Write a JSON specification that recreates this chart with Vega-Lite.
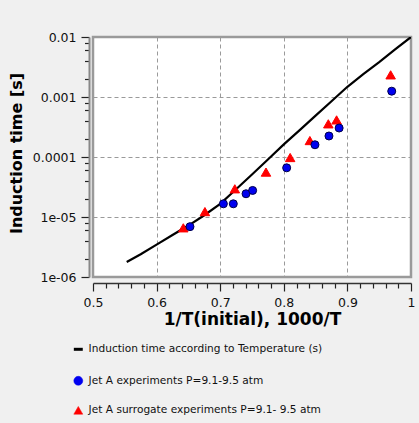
{
  "$schema": "https://vega.github.io/schema/vega-lite/v6.json",
  "autosize": "none",
  "width": 318,
  "height": 240,
  "padding": {"left": 93, "top": 37, "right": 8, "bottom": 146},
  "background": "#f0f0f0",
  "config": {
    "font": "DejaVu Sans",
    "view": {"fill": "white", "stroke": "#9a9a9a", "strokeWidth": 2.5}
  },
  "datasets": {
    "curve": [
      {"x": 0.553, "t": 1.78e-6, "series": "Induction time according to Temperature (s)"},
      {"x": 0.575, "t": 2.4e-6, "series": "Induction time according to Temperature (s)"},
      {"x": 0.6, "t": 3.47e-6, "series": "Induction time according to Temperature (s)"},
      {"x": 0.625, "t": 5.0e-6, "series": "Induction time according to Temperature (s)"},
      {"x": 0.65, "t": 7.2e-6, "series": "Induction time according to Temperature (s)"},
      {"x": 0.675, "t": 1.07e-5, "series": "Induction time according to Temperature (s)"},
      {"x": 0.7, "t": 1.66e-5, "series": "Induction time according to Temperature (s)"},
      {"x": 0.725, "t": 2.9e-5, "series": "Induction time according to Temperature (s)"},
      {"x": 0.75, "t": 5.1e-5, "series": "Induction time according to Temperature (s)"},
      {"x": 0.775, "t": 9.1e-5, "series": "Induction time according to Temperature (s)"},
      {"x": 0.8, "t": 1.62e-4, "series": "Induction time according to Temperature (s)"},
      {"x": 0.825, "t": 2.8e-4, "series": "Induction time according to Temperature (s)"},
      {"x": 0.85, "t": 4.9e-4, "series": "Induction time according to Temperature (s)"},
      {"x": 0.875, "t": 8.5e-4, "series": "Induction time according to Temperature (s)"},
      {"x": 0.9, "t": 1.48e-3, "series": "Induction time according to Temperature (s)"},
      {"x": 0.925, "t": 2.4e-3, "series": "Induction time according to Temperature (s)"},
      {"x": 0.95, "t": 3.8e-3, "series": "Induction time according to Temperature (s)"},
      {"x": 0.975, "t": 6.2e-3, "series": "Induction time according to Temperature (s)"},
      {"x": 1.0, "t": 0.01, "series": "Induction time according to Temperature (s)"}
    ],
    "points": [
      {"x": 0.642, "t": 6.6e-6, "series": "Jet A surrogate experiments P=9.1- 9.5 atm"},
      {"x": 0.676, "t": 1.23e-5, "series": "Jet A surrogate experiments P=9.1- 9.5 atm"},
      {"x": 0.723, "t": 2.95e-5, "series": "Jet A surrogate experiments P=9.1- 9.5 atm"},
      {"x": 0.772, "t": 5.6e-5, "series": "Jet A surrogate experiments P=9.1- 9.5 atm"},
      {"x": 0.81, "t": 9.8e-5, "series": "Jet A surrogate experiments P=9.1- 9.5 atm"},
      {"x": 0.841, "t": 1.88e-4, "series": "Jet A surrogate experiments P=9.1- 9.5 atm"},
      {"x": 0.87, "t": 3.57e-4, "series": "Jet A surrogate experiments P=9.1- 9.5 atm"},
      {"x": 0.883, "t": 4.15e-4, "series": "Jet A surrogate experiments P=9.1- 9.5 atm"},
      {"x": 0.968, "t": 2.34e-3, "series": "Jet A surrogate experiments P=9.1- 9.5 atm"},
      {"x": 0.6525, "t": 6.9e-6, "series": "Jet A experiments P=9.1-9.5 atm"},
      {"x": 0.705, "t": 1.66e-5, "series": "Jet A experiments P=9.1-9.5 atm"},
      {"x": 0.7206, "t": 1.66e-5, "series": "Jet A experiments P=9.1-9.5 atm"},
      {"x": 0.7406, "t": 2.44e-5, "series": "Jet A experiments P=9.1-9.5 atm"},
      {"x": 0.751, "t": 2.77e-5, "series": "Jet A experiments P=9.1-9.5 atm"},
      {"x": 0.8045, "t": 6.6e-5, "series": "Jet A experiments P=9.1-9.5 atm"},
      {"x": 0.849, "t": 1.6e-4, "series": "Jet A experiments P=9.1-9.5 atm"},
      {"x": 0.871, "t": 2.24e-4, "series": "Jet A experiments P=9.1-9.5 atm"},
      {"x": 0.887, "t": 3.04e-4, "series": "Jet A experiments P=9.1-9.5 atm"},
      {"x": 0.9697, "t": 1.25e-3, "series": "Jet A experiments P=9.1-9.5 atm"}
    ]
  },
  "encoding": {
    "x": {
      "field": "x", "type": "quantitative",
      "scale": {"domain": [0.5, 1.0], "nice": false, "zero": false},
      "axis": {
        "title": "1/T(initial), 1000/T",
        "titleFont": "DejaVu Sans", "titleFontSize": 17, "titleFontWeight": "bold", "titleColor": "#000",
        "titlePadding": 3,
        "values": [0.5,0.52,0.54,0.56,0.58,0.6,0.62,0.64,0.66,0.68,0.7,0.72,0.74,0.76,0.78,0.8,0.82,0.84,0.86,0.88,0.9,0.92,0.94,0.96,0.98,1.0],
        "labelExpr": "abs(datum.value*10 - round(datum.value*10)) > 0.01 ? '' : format(datum.value, '~g')",
        "labelFontSize": 12.5, "labelColor": "#111", "labelFlush": false, "labelOverlap": false,
        "labelPadding": 5,
        "offset": 6,
        "domainColor": "#333", "domainWidth": 1.5,
        "tickColor": "#222", "tickWidth": 1.2,
        "tickSize": {"condition": {"test": "abs(datum.value*10 - round(datum.value*10)) < 0.01", "value": 8}, "value": 5},
        "grid": true,
        "gridColor": "#9a9a9a", "gridDash": [4, 3], "gridWidth": 1,
        "gridOpacity": {"condition": {"test": "abs(datum.value*10 - round(datum.value*10)) < 0.01", "value": 1}, "value": 0}
      }
    },
    "y": {
      "field": "t", "type": "quantitative",
      "scale": {"type": "log", "domain": [1e-6, 0.01], "nice": false},
      "axis": {
        "title": "Induction time [s]",
        "titleFont": "DejaVu Sans", "titleFontSize": 16, "titleFontWeight": "bold", "titleColor": "#000",
        "titlePadding": 8, "titleY": 116,
        "values": [1e-6,2e-6,4e-6,6e-6,8e-6,1e-5,2e-5,4e-5,6e-5,8e-5,1e-4,2e-4,4e-4,6e-4,8e-4,1e-3,2e-3,4e-3,6e-3,8e-3,1e-2],
        "labelExpr": "abs(log(datum.value)/LN10 - round(log(datum.value)/LN10)) > 0.001 ? '' : round(log(datum.value)/LN10) == -2 ? '0.01' : round(log(datum.value)/LN10) == -3 ? '0.001' : round(log(datum.value)/LN10) == -4 ? '0.0001' : round(log(datum.value)/LN10) == -5 ? '1e-05' : '1e-06'",
        "labelFontSize": 12.5, "labelColor": "#111", "labelFlush": false, "labelOverlap": false,
        "labelPadding": 5,
        "offset": 4,
        "domainColor": "#888", "domainWidth": 2,
        "tickColor": "#222", "tickWidth": 1.2,
        "tickSize": {"condition": {"test": "abs(log(datum.value)/LN10 - round(log(datum.value)/LN10)) < 0.001", "value": 8}, "value": 4.5},
        "grid": true,
        "gridColor": "#9a9a9a", "gridDash": [4, 3], "gridWidth": 1,
        "gridOpacity": {"condition": {"test": "abs(log(datum.value)/LN10 - round(log(datum.value)/LN10)) < 0.001", "value": 1}, "value": 0}
      }
    }
  },
  "layer": [
    {
      "data": {"name": "curve"},
      "mark": {"type": "line", "strokeWidth": 2.2, "clip": true},
      "encoding": {
        "color": {
          "field": "series", "type": "nominal",
          "scale": {
            "domain": ["Induction time according to Temperature (s)", "Jet A experiments P=9.1-9.5 atm", "Jet A surrogate experiments P=9.1- 9.5 atm"],
            "range": ["#000000", "#0000f0", "#ff0000"]
          },
          "legend": {
            "orient": "none", "legendX": -20, "legendY": 307, "title": null,
            "symbolSize": 80, "labelFontSize": 10.6, "labelColor": "#111", "labelFont": "DejaVu Sans",
            "rowPadding": 18.5, "labelOffset": 5, "labelLimit": 400,
            "encode": {"symbols": {"update": {
              "fill": {"scale": "color", "field": "value"},
              "stroke": {"scale": "color", "field": "value"},
              "strokeWidth": {"signal": "datum.value == 'Induction time according to Temperature (s)' ? 3 : 0.5"}
            }}}
          }
        }
      }
    },
    {
      "data": {"name": "points"},
      "mark": {"type": "point", "filled": true, "opacity": 1, "size": 70, "strokeWidth": 1},
      "encoding": {
        "color": {
          "field": "series", "type": "nominal",
          "scale": {
            "domain": ["Induction time according to Temperature (s)", "Jet A experiments P=9.1-9.5 atm", "Jet A surrogate experiments P=9.1- 9.5 atm"],
            "range": ["#000000", "#0000f0", "#ff0000"]
          },
          "legend": {
            "orient": "none", "legendX": -20, "legendY": 307, "title": null,
            "symbolSize": 80, "labelFontSize": 10.6, "labelColor": "#111", "labelFont": "DejaVu Sans",
            "rowPadding": 18.5, "labelOffset": 5, "labelLimit": 400,
            "encode": {"symbols": {"update": {
              "fill": {"scale": "color", "field": "value"},
              "stroke": {"scale": "color", "field": "value"},
              "strokeWidth": {"signal": "datum.value == 'Induction time according to Temperature (s)' ? 3 : 0.5"}
            }}}
          }
        },
        "shape": {
          "field": "series", "type": "nominal",
          "scale": {
            "domain": ["Induction time according to Temperature (s)", "Jet A experiments P=9.1-9.5 atm", "Jet A surrogate experiments P=9.1- 9.5 atm"],
            "range": ["stroke", "circle", "triangle-up"]
          },
          "legend": {
            "orient": "none", "legendX": -20, "legendY": 307, "title": null,
            "symbolSize": 80, "labelFontSize": 10.6, "labelColor": "#111", "labelFont": "DejaVu Sans",
            "rowPadding": 18.5, "labelOffset": 5, "labelLimit": 400,
            "encode": {"symbols": {"update": {
              "fill": {"scale": "color", "field": "value"},
              "stroke": {"scale": "color", "field": "value"},
              "strokeWidth": {"signal": "datum.value == 'Induction time according to Temperature (s)' ? 3 : 0.5"}
            }}}
          }
        },
        "size": {"condition": {"test": "datum.series == 'Jet A experiments P=9.1-9.5 atm'", "value": 64}, "value": 90},
        "stroke": {"condition": {"test": "datum.series == 'Jet A experiments P=9.1-9.5 atm'", "value": "#00004a"}, "value": "#ff0000"}
      }
    }
  ]
}
